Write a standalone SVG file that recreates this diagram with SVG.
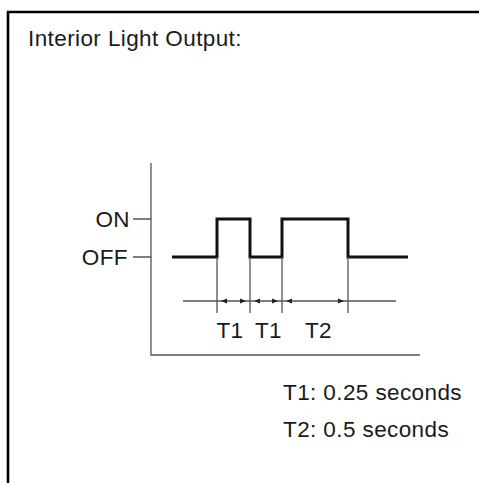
<svg xmlns="http://www.w3.org/2000/svg" width="479" height="483" viewBox="0 0 479 483">
<style>
.t{font-family:"Liberation Sans",Arial,sans-serif;font-size:22.5px;letter-spacing:0.4px;fill:#1a1a1a}
.thin{stroke:#555;stroke-width:1.3;fill:none}
.wave{stroke:#111;stroke-width:3;fill:none}
.ah{fill:#222}
</style>
<rect width="479" height="483" fill="#fff"/>
<g id="frame">
<path d="M6.8 12 H479 M8 12 V483" stroke="#000" stroke-width="2.6" fill="none"/>
</g>
<g id="title"><text class="t" x="28" y="46">Interior Light Output:</text></g>
<g id="axes">
<path class="thin" d="M151 163 V355 H420"/>
<path class="thin" d="M133 219 H151 M133 257 H151"/>
<text class="t" x="130" y="227" text-anchor="end">ON</text>
<text class="t" x="128" y="265" text-anchor="end">OFF</text>
</g>
<g id="waveform">
<path class="wave" d="M172 257 H217 V219 H250 V257 H282 V219 H348 V257 H408"/>
</g>
<g id="connectors">
<path class="thin" d="M217 257 V313 M250 257 V313 M282 257 V313 M348 257 V313 M183 301 H396"/>
<path class="ah" d="M221 301 l6 -2.5 v5 z M246 301 l-6 -2.5 v5 z M254 301 l6 -2.5 v5 z M278 301 l-6 -2.5 v5 z M286 301 l6 -2.5 v5 z M344 301 l-6 -2.5 v5 z"/>
</g>
<g id="labels">
<text class="t" x="230" y="338" text-anchor="middle">T1</text>
<text class="t" x="268.5" y="338" text-anchor="middle">T1</text>
<text class="t" x="318.5" y="338" text-anchor="middle">T2</text>
<text class="t" x="283" y="400">T1: 0.25 seconds</text>
<text class="t" x="283" y="437">T2: 0.5 seconds</text>
</g>
</svg>
